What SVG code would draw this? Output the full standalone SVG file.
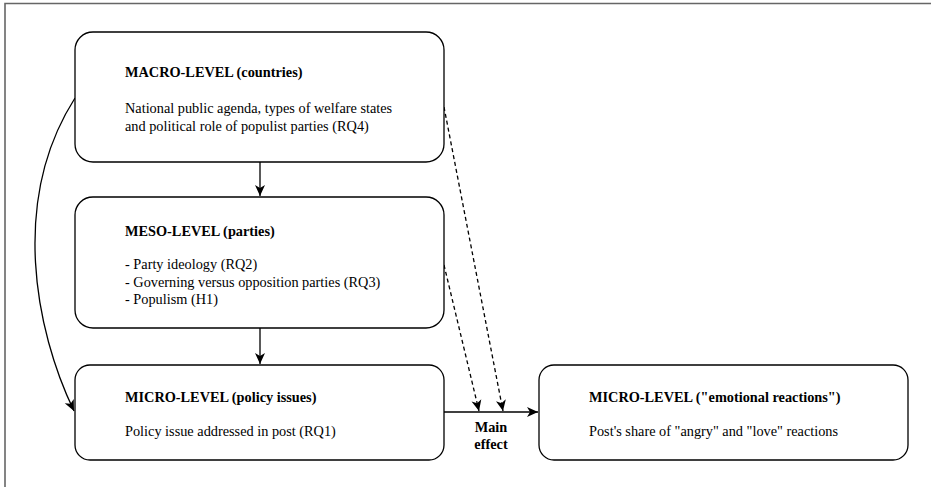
<svg xmlns="http://www.w3.org/2000/svg" width="931" height="487" viewBox="0 0 931 487">
<style>
.box{fill:#fff;stroke:#000;stroke-width:1.3}
.t{font-family:"Liberation Serif","Times New Roman",serif;font-size:14.3px;fill:#000}
.b{font-weight:bold}
.c{fill:none;stroke:#000;stroke-width:1.3}
.d{stroke-dasharray:4 3}
</style>
<defs>
<marker id="ah" markerUnits="userSpaceOnUse" markerWidth="14" markerHeight="14" viewBox="0 0 14 14" refX="12" refY="7" orient="auto">
<path d="M1,2 L12,7 L1,12 L4,7 Z" fill="#000"/>
</marker>
</defs>
<rect width="931" height="487" fill="#fff"/>
<path d="M5,487 V3.5 H931" fill="none" stroke="#666" stroke-width="1.6"/>
<g id="connectors">
<line class="c" x1="260" y1="162" x2="260" y2="196" marker-end="url(#ah)"/>
<line class="c" x1="260" y1="328" x2="260" y2="364" marker-end="url(#ah)"/>
<path class="c" d="M75,98 C10,200 35,330 74,411" marker-end="url(#ah)"/>
<line class="c" x1="444" y1="412" x2="538" y2="412" marker-end="url(#ah)"/>
<line class="c d" x1="444" y1="265" x2="479" y2="411" marker-end="url(#ah)"/>
<line class="c d" x1="444" y1="107" x2="503" y2="411" marker-end="url(#ah)"/>
<text class="t b" x="491" y="432" text-anchor="middle">Main</text>
<text class="t b" x="491" y="449" text-anchor="middle">effect</text>
</g>
<g id="macro">
<rect class="box" x="75" y="32" width="369" height="130" rx="18"/>
<text class="t b" x="125" y="77">MACRO-LEVEL (countries)</text>
<text class="t" x="125" y="113">National public agenda, types of welfare states</text>
<text class="t" x="125" y="130.5">and political role of populist parties (RQ4)</text>
</g>
<g id="meso">
<rect class="box" x="75" y="197" width="369" height="131" rx="18"/>
<text class="t b" x="125" y="235.5">MESO-LEVEL (parties)</text>
<text class="t" x="125" y="269">- Party ideology (RQ2)</text>
<text class="t" x="125" y="286.5">- Governing versus opposition parties (RQ3)</text>
<text class="t" x="125" y="303.5">- Populism (H1)</text>
</g>
<g id="micro">
<rect class="box" x="75" y="365" width="369" height="95" rx="15"/>
<text class="t b" x="125" y="401.5">MICRO-LEVEL (policy issues)</text>
<text class="t" x="125" y="436">Policy issue addressed in post (RQ1)</text>
</g>
<g id="reactions">
<rect class="box" x="539" y="365" width="369" height="95" rx="15"/>
<text class="t b" x="589" y="401.5">MICRO-LEVEL ("emotional reactions")</text>
<text class="t" x="589" y="436">Post's share of "angry" and "love" reactions</text>
</g>
</svg>
